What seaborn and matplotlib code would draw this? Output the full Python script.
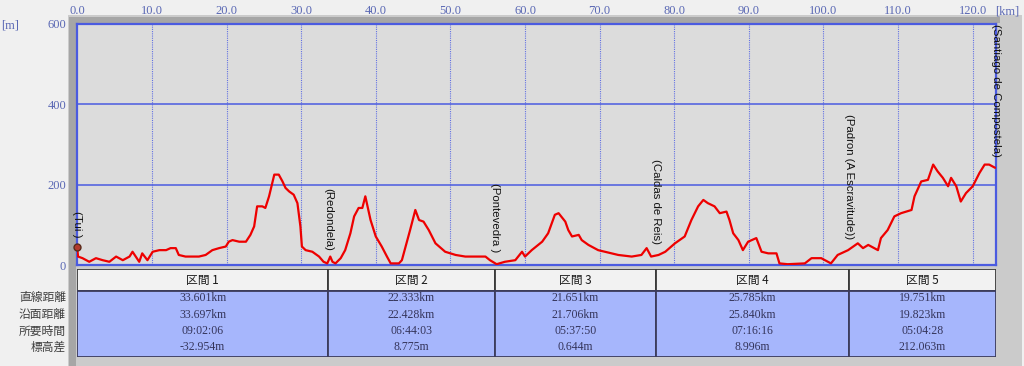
import numpy as np
import pandas as pd
import matplotlib
matplotlib.use("Agg")
import matplotlib.pyplot as plt
import matplotlib.transforms as mtrans
from matplotlib.patches import Rectangle
import seaborn as sns

# ---------------- data ----------------
km = [0.0, 0.1, 0.7, 1.6, 2.5, 3.4, 4.3, 5.2, 6.1, 7.0, 7.4, 8.3, 8.7, 9.4, 10.1, 11.0, 11.9,
      12.5, 13.2, 13.6, 14.5, 16.3, 17.2, 18.1, 19.0, 19.9, 20.3, 20.8, 21.7, 22.6, 23.2, 23.7,
      24.1, 24.8, 25.2, 25.7, 26.4, 27.0, 27.5, 27.9, 28.4, 29.0, 29.5, 29.9, 30.1, 30.6, 31.5,
      32.4, 33.0, 33.5, 33.9, 34.2, 34.6, 35.3, 35.9, 36.6, 37.1, 37.7, 38.2, 38.6, 38.8, 39.3,
      40.0, 40.8, 41.5, 42.0, 43.1, 43.5, 44.0, 44.6, 45.3, 45.8, 46.4, 47.1, 48.0, 49.3, 50.7,
      52.0, 53.3, 54.7, 55.3, 56.2, 57.3, 58.7, 59.6, 60.0, 60.9, 62.3, 63.1, 64.0, 64.5, 65.4,
      65.8, 66.3, 67.2, 67.6, 68.5, 69.8, 70.7, 72.5, 74.3, 75.6, 76.3, 76.9, 77.9, 78.8, 80.1,
      81.4, 82.3, 83.2, 83.9, 84.5, 85.4, 86.1, 87.0, 87.4, 87.9, 88.6, 89.2, 89.9, 91.0, 91.7,
      92.6, 93.7, 94.1, 95.2, 97.5, 98.4, 99.7, 101.0, 101.9, 103.3, 104.6, 105.3, 106.0, 107.3,
      107.7, 108.6, 109.5, 110.4, 111.8, 112.2, 113.1, 114.0, 114.7, 115.3, 116.0, 116.7, 117.1,
      117.8, 118.4, 119.1, 120.0, 120.9, 121.6, 122.2, 123.0]
elev = [40, 21, 17, 8, 17, 12, 8, 21, 12, 21, 33, 8, 29, 12, 33, 37, 37,
        42, 42, 25, 21, 21, 25, 37, 42, 46, 58, 62, 58, 58, 75, 96,
        146, 146, 142, 171, 225, 225, 208, 192, 183, 175, 154, 96, 46, 37, 33,
        21, 8, 4, 21, 8, 4, 17, 37, 79, 121, 142, 142, 171, 154, 112,
        71, 46, 21, 4, 4, 12, 46, 87, 137, 112, 108, 87, 54, 33, 25,
        21, 21, 21, 12, 2, 8, 12, 33, 21, 37, 58, 79, 125, 129, 108,
        87, 71, 75, 62, 50, 37, 33, 25, 21, 25, 42, 21, 25, 33, 54,
        71, 112, 146, 162, 154, 146, 129, 133, 112, 79, 62, 37, 58, 67, 33,
        29, 29, 4, 2, 4, 17, 17, 4, 25, 37, 54, 42, 50, 37,
        67, 87, 121, 129, 137, 171, 208, 212, 250, 233, 217, 196, 217,
        196, 158, 179, 196, 229, 250, 250, 242]

x_ticks = [0, 10, 20, 30, 40, 50, 60, 70, 80, 90, 100, 110, 120]
y_ticks = [0, 200, 400, 600]

section_names = ["区間 1", "区間 2", "区間 3", "区間 4", "区間 5"]
row_labels = ["直線距離", "沿面距離", "所要時間", "標高差"]
straight_km = [33.601, 22.333, 21.651, 25.785, 19.751]
straight_lbl = ["33.601km", "22.333km", "21.651km", "25.785km", "19.751km"]
surface_lbl = ["33.697km", "22.428km", "21.706km", "25.840km", "19.823km"]
time_lbl = ["09:02:06", "06:44:03", "05:37:50", "07:16:16", "05:04:28"]
diff_lbl = ["-32.954m", "8.775m", "0.644m", "8.996m", "212.063m"]
towns = ["(Tui )", "(Redondela)", "(Pontevedra )", "(Caldas de Reis)",
         "(Padron (A Escravitude))", "(Santiago de Compostela)"]

# ---------------- style ----------------
sns.set_style("white")
plt.rcParams["font.family"] = ["Liberation Serif", "Noto Sans CJK JP"]

W, H = 1024, 366
fig = plt.figure(figsize=(W / 100, H / 100), dpi=100)
fig.patch.set_facecolor("#f0f0f0")


def fx(px):
    return px / W


def fy(py):
    return 1 - py / H


# panel frame (behind everything)
for (x0, y0, w, h, col) in [(68, 15, 1022 - 68, 366 - 15, "#cbcbcb"),
                            (69, 17, 7, 366 - 17, "#a6a6a6"),
                            (69, 17, 1000 - 69, 6, "#a6a6a6")]:
    fig.patches.append(Rectangle((fx(x0), fy(y0 + h)), w / W, h / H,
                                 transform=fig.transFigure, facecolor=col,
                                 edgecolor="none", zorder=-10))

total = sum(straight_km)
bounds = np.concatenate([[0.0], np.cumsum(straight_km)])
starts = bounds[:-1]

AX_L, AX_R = 77.3, 996.0
ax = fig.add_axes([fx(AX_L), fy(265), (AX_R - AX_L) / W, (265 - 24) / H])
ax.set_facecolor("#dcdcdc")

blue = "#4b5be0"
for v in x_ticks[1:]:
    ax.axvline(v, color="#6472e2", lw=0.8, ls=(0, (1, 1)), zorder=1)
for v in y_ticks[1:-1]:
    ax.axhline(v, color=blue, lw=1.1, zorder=1)

df = pd.DataFrame({"km": km, "elev": elev})
sns.lineplot(data=df, x="km", y="elev", ax=ax, color="#ee0000", linewidth=1.6,
             sort=False, zorder=3)

# start marker (hiker icon substitute)
ax.plot([km[0]], [elev[0] + 6], marker="o", ms=5, color="#b23a2e", mec="#5a2a1a",
        clip_on=False, zorder=4)

ax.set_xlim(0, total)
ax.set_ylim(0, 600)
ax.set_xlabel("")
ax.set_ylabel("")
for s in ax.spines.values():
    s.set_color(blue)
    s.set_linewidth(1.6)
    s.set_visible(True)

tick_col = "#5a68b4"
ax.xaxis.tick_top()
ax.set_xticks(x_ticks)
ax.set_xticklabels([f"{v:.1f}" for v in x_ticks])
ax.set_yticks(y_ticks)
ax.set_yticklabels([str(v) for v in y_ticks])
ax.tick_params(axis="both", length=0, colors=tick_col, labelsize=9)
ax.tick_params(axis="x", pad=5)
ax.tick_params(axis="y", pad=8)

fig.text(fx(1), fy(26), "[m]", ha="left", va="center", color=tick_col, fontsize=9)
fig.text(fx(995), fy(12), "[km]", ha="left", va="center", color=tick_col, fontsize=9)

# town labels
town_y = np.interp(bounds, km, elev)
for xb, yb, name in zip(bounds, town_y, towns):
    ax.annotate(name, xy=(xb, yb), xytext=(0, 8), textcoords="offset points",
                rotation=-90, ha="center", va="bottom", fontsize=8.2,
                family="Liberation Sans", color="#111111",
                annotation_clip=False, zorder=5)

# ---------------- table ----------------
axT = fig.add_axes([fx(AX_L), fy(357), (AX_R - AX_L) / W, (357 - 269) / H])
axT.set_xlim(0, total)
axT.set_ylim(88, 0)
axT.axis("off")

axT.bar(starts, 22, width=straight_km, bottom=0, align="edge",
        color="#f2f2f2", edgecolor="#3a3a3a", linewidth=1.3)
axT.bar(starts, 66, width=straight_km, bottom=22, align="edge",
        color="#a6b6fc", edgecolor="#3c3c5c", linewidth=1.3)

row_y = [29, 45.5, 62, 78.5]
centers = starts + np.array(straight_km) / 2
for i, c in enumerate(centers):
    axT.text(c, 11, section_names[i], ha="center", va="center", fontsize=8.5,
             family=["Noto Sans CJK JP"], color="#1a1a1a")
    for ry, txt in zip(row_y, [straight_lbl[i], surface_lbl[i], time_lbl[i], diff_lbl[i]]):
        axT.text(c, ry, txt, ha="center", va="center", fontsize=8.5,
                 color="#34345a")

trans = mtrans.blended_transform_factory(fig.transFigure, axT.transData)
for ry, lab in zip(row_y, row_labels):
    axT.text(fx(66), ry, lab, transform=trans, ha="right", va="center",
             fontsize=8.5, family=["Noto Sans CJK JP"], color="#404040")

fig.savefig("out.png", dpi=100, facecolor=fig.get_facecolor())
